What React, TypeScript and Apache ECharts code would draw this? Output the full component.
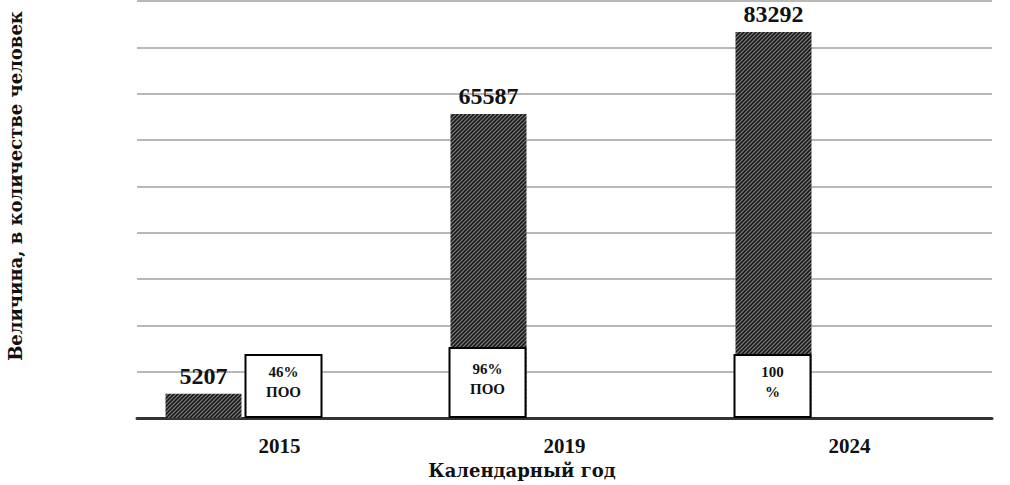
import React, { useEffect, useRef } from "react";
import * as echarts from "echarts";

const categories = ["2015", "2019", "2024"];
const values = [5207, 65587, 83292];
const boxLabels = ["46%\nПОО", "96%\nПОО", "100\n%"];
const boxTops = [13600, 15100, 13600];
const yMin = 0;
const yMax = 90000;
const yInterval = 10000;
const xTitle = "Календарный год";
const yTitle = "Величина, в количестве человек";

const FONT = "'Liberation Serif', 'Times New Roman', serif";
const TITLE_FONT = "'DejaVu Serif', 'Liberation Serif', serif";

function makeHatch(): HTMLCanvasElement {
  const c = document.createElement("canvas");
  c.width = 4;
  c.height = 4;
  const ctx = c.getContext("2d")!;
  ctx.fillStyle = "#7c7c7c";
  ctx.fillRect(0, 0, 4, 4);
  ctx.strokeStyle = "#1a1a1a";
  ctx.lineWidth = 1.6;
  ctx.beginPath();
  ctx.moveTo(-1, 5);
  ctx.lineTo(5, -1);
  ctx.moveTo(-1, 1);
  ctx.lineTo(1, -1);
  ctx.moveTo(3, 5);
  ctx.lineTo(5, 3);
  ctx.stroke();
  return c;
}

export default function App() {
  const ref = useRef<HTMLDivElement>(null);
  useEffect(() => {
    if (!ref.current) return;
    const chart = echarts.init(ref.current, undefined, { renderer: "svg" });
    const hatch = makeHatch();
    const option: any = {
      animation: false,
      backgroundColor: "#fff",
      grid: { left: 137, right: 18, top: 1, bottom: 67 },
      xAxis: {
        type: "category",
        data: categories,
        axisTick: { show: false },
        axisLine: { lineStyle: { color: "#333", width: 3 } },
        axisLabel: {
          margin: 17,
          fontFamily: FONT,
          fontWeight: "bold",
          fontSize: 21,
          color: "#111",
        },
      },
      yAxis: {
        type: "value",
        min: yMin,
        max: yMax,
        interval: yInterval,
        axisLabel: { show: false },
        axisLine: { show: false },
        axisTick: { show: false },
        splitLine: { lineStyle: { color: "#b8b8b8", width: 2 } },
      },
      series: [
        {
          type: "bar",
          name: "Величина",
          data: values,
          barWidth: 76,
          barGap: "100%",
          itemStyle: {
            color: { image: hatch, repeat: "repeat", imageWidth: 4, imageHeight: 4 },
          },
          label: {
            show: true,
            position: "top",
            distance: 6,
            fontFamily: FONT,
            fontWeight: "bold",
            fontSize: 24,
            color: "#111",
          },
        },
        {
          type: "bar",
          name: "placeholder",
          data: categories.map(() => "-"),
          barWidth: 76,
          silent: true,
        },
        {
          type: "custom",
          name: "ПОО",
          z: 5,
          data: categories.map((_, i) => [i, boxTops[i]]),
          renderItem: (params: any, api: any) => {
            const i = api.value(0);
            const top = api.value(1);
            const pTop = api.coord([i, top]);
            const pBase = api.coord([i, 0]);
            const onBar = top < values[i];
            const w = 76;
            const cx = pTop[0] + (onBar ? -77 : 4);
            return {
              type: "group",
              children: [
                {
                  type: "rect",
                  shape: { x: cx - w / 2, y: pTop[1], width: w, height: pBase[1] - pTop[1] - 1 },
                  style: { fill: "#fff", stroke: "#000", lineWidth: 2 },
                },
                {
                  type: "text",
                  x: cx,
                  y: (pTop[1] + pBase[1]) / 2 - 4,
                  style: {
                    text: boxLabels[i],
                    align: "center",
                    verticalAlign: "middle",
                    fontFamily: FONT,
                    fontWeight: "bold",
                    fontSize: 15,
                    lineHeight: 20,
                    fill: "#111",
                  },
                },
              ],
            };
          },
        },
      ],
      graphic: [
        {
          type: "text",
          x: 522,
          y: 470,
          style: {
            text: xTitle,
            align: "center",
            verticalAlign: "middle",
            fontFamily: TITLE_FONT,
            fontWeight: "bold",
            fontSize: 18,
            fill: "#111",
          },
        },
        {
          type: "text",
          x: 15,
          y: 186,
          rotation: Math.PI / 2,
          style: {
            text: yTitle,
            align: "center",
            verticalAlign: "middle",
            fontFamily: TITLE_FONT,
            fontWeight: "bold",
            fontSize: 18,
            fill: "#111",
          },
        },
      ],
    };
    chart.setOption(option);
    return () => chart.dispose();
  }, []);
  return (
    <div
      ref={ref}
      style={{ position: "fixed", left: 0, top: 0, width: 1010, height: 485 }}
    />
  );
}
